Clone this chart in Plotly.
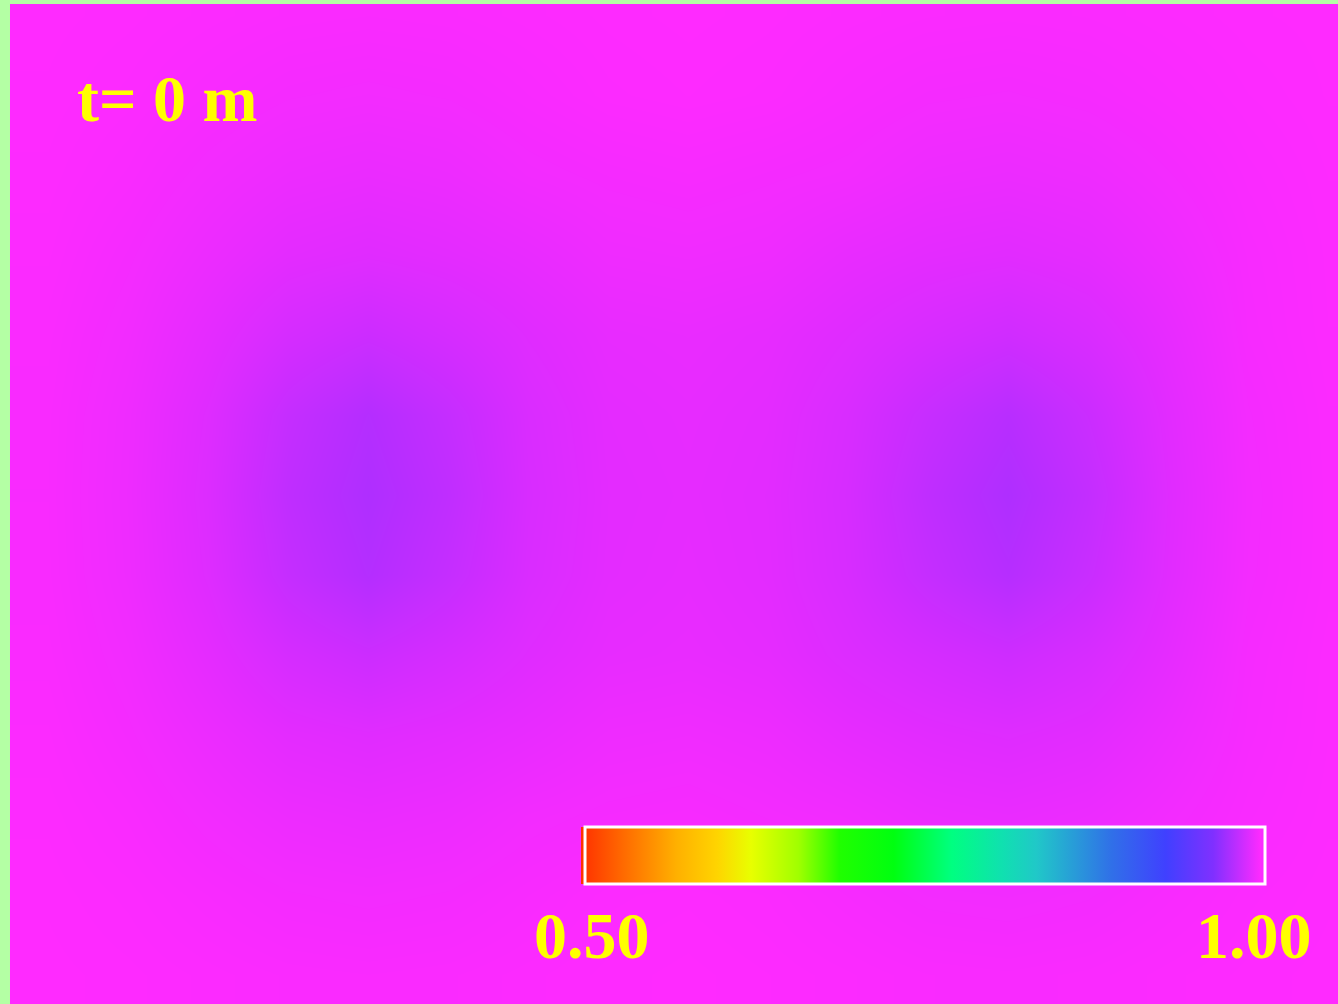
import plotly.graph_objects as go

# Sample grid (screen-like coordinates, y grows downward)
grid_x = [48, 128, 208, 288, 368, 448, 528, 608, 688, 768, 848, 928, 1008, 1088, 1168, 1248, 1328]
grid_y = [15, 95, 175, 255, 335, 415, 495, 575, 655, 735, 815, 895, 975]

# Density deficit below 1.0, in thousandths, per grid row
deficit = [
    [0.0, 0.3, 0.8, 1.3, 1.5, 1.3, 0.8, 0.3, 0.0, 0.3, 0.8, 1.2, 1.4, 1.2, 0.7, 0.2, 0.0],
    [0.2, 0.8, 1.8, 2.8, 3.2, 2.8, 1.8, 0.8, 0.4, 0.8, 1.8, 2.7, 3.0, 2.5, 1.6, 0.7, 0.1],
    [0.5, 1.6, 3.4, 4.9, 5.6, 4.9, 3.4, 2.6, 2.1, 2.7, 3.3, 4.7, 5.2, 4.5, 3.0, 1.4, 0.4],
    [0.9, 2.7, 5.1, 7.5, 8.5, 7.5, 6.1, 4.3, 3.9, 4.4, 6.2, 7.4, 8.1, 7.0, 4.6, 2.0, 0.6],
    [1.4, 3.6, 7.2, 11.5, 14.0, 11.5, 8.6, 6.4, 5.9, 6.7, 8.7, 11.0, 13.0, 10.5, 6.6, 2.3, 0.7],
    [1.7, 4.4, 9.0, 16.0, 20.5, 16.0, 10.3, 7.3, 6.6, 7.5, 10.6, 15.5, 19.5, 14.5, 8.0, 3.0, 1.0],
    [1.8, 4.6, 9.6, 17.5, 22.0, 17.5, 10.8, 7.6, 6.9, 7.9, 11.3, 17.5, 22.0, 16.5, 8.7, 3.3, 1.1],
    [1.7, 4.4, 9.0, 16.0, 20.5, 16.0, 10.3, 7.4, 6.6, 7.7, 10.9, 16.0, 20.0, 15.0, 8.3, 3.1, 1.1],
    [1.4, 3.6, 7.2, 11.5, 14.0, 11.5, 8.6, 6.5, 6.0, 6.9, 9.4, 11.5, 13.5, 11.0, 7.0, 2.5, 0.8],
    [0.9, 2.7, 5.1, 7.5, 8.5, 7.5, 6.1, 4.4, 4.0, 4.7, 6.6, 8.0, 8.9, 7.8, 5.1, 2.2, 0.7],
    [0.5, 1.6, 3.4, 4.9, 5.6, 4.9, 3.4, 2.6, 2.2, 3.0, 3.8, 5.3, 5.9, 5.1, 3.4, 1.6, 0.5],
    [0.2, 0.8, 1.8, 2.8, 3.2, 2.8, 1.8, 0.8, 0.5, 1.0, 2.1, 3.2, 3.5, 3.0, 1.9, 0.8, 0.2],
    [0.0, 0.3, 0.8, 1.3, 1.5, 1.3, 0.8, 0.3, 0.0, 0.4, 0.9, 1.5, 1.7, 1.4, 0.8, 0.3, 0.0],
]
field = [[1.0 - d / 1000.0 for d in row] for row in deficit]

z_min, z_max = 0.50, 1.00
tick_vals = [z_min, z_max]
time_label = "t= 0 m"

MAGENTA = "rgb(255,42,255)"
rainbow = [
    [0.00, "#FF3000"],
    [0.06, "#FF6800"],
    [0.14, "#FFB000"],
    [0.20, "#FFD400"],
    [0.25, "#E8FF00"],
    [0.32, "#A0FF00"],
    [0.38, "#20FF00"],
    [0.46, "#00FF10"],
    [0.545, "#00FF80"],
    [0.62, "#10E0B0"],
    [0.67, "#20C8C8"],
    [0.78, "#3070E8"],
    [0.86, "#4040FF"],
    [0.93, "#8030FF"],
    [1.00, MAGENTA],
]

label_font = dict(family="Liberation Serif", size=66, color="#FFFF00", weight="bold")

fig = go.Figure(
    go.Heatmap(
        x=grid_x,
        y=grid_y,
        z=field,
        zmin=z_min,
        zmax=z_max,
        zsmooth="best",
        colorscale=rainbow,
        colorbar=dict(
            orientation="h",
            xref="container",
            yref="container",
            x=928 / 1338,
            xanchor="center",
            y=1 - 856.5 / 1004,
            yanchor="middle",
            lenmode="pixels",
            len=680,
            thicknessmode="pixels",
            thickness=57,
            outlinecolor="white",
            outlinewidth=3,
            xpad=0,
            ypad=0,
            tickvals=tick_vals,
            ticks="",
            showticklabels=False,
        ),
        hoverinfo="skip",
    )
)

# Colour-bar end labels, set just below each end of the bar
label_x = {z_min: (591.5 - 10) / 1328, z_max: (1253.5 - 10) / 1328}
for v in tick_vals:
    fig.add_annotation(
        text=f"{v:.2f}",
        xref="paper", yref="paper",
        x=label_x[v], y=1 - (897 - 4) / 1000,
        xanchor="center", yanchor="top",
        showarrow=False,
        font=label_font,
    )

fig.add_annotation(
    text=time_label,
    xref="paper", yref="paper",
    x=(75 - 10) / 1328, y=1 - (60 - 4) / 1000,
    xanchor="left", yanchor="top",
    showarrow=False,
    font=label_font,
)

fig.update_xaxes(range=[10, 1338], visible=False, fixedrange=True)
fig.update_yaxes(range=[1004, 4], visible=False, fixedrange=True)
fig.update_layout(
    width=1338,
    height=1004,
    margin=dict(l=10, r=0, t=4, b=0, pad=0, autoexpand=False),
    paper_bgcolor="#B4FFA4",
    plot_bgcolor=MAGENTA,
    showlegend=False,
)

fig.write_html("out.html")
